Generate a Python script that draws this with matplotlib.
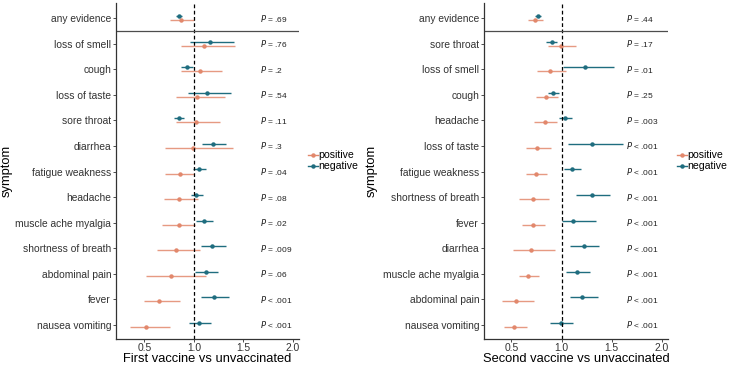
import numpy as np
import matplotlib
matplotlib.use("Agg")
import matplotlib.pyplot as plt
from matplotlib.lines import Line2D

plt.rcParams['font.family'] = ['Liberation Sans', 'DejaVu Sans']

# ---- first vaccine vs unvaccinated ----
symptoms1 = ["any evidence", "loss of smell", "cough", "loss of taste", "sore throat",
             "diarrhea", "fatigue weakness", "headache", "muscle ache myalgia",
             "shortness of breath", "abdominal pain", "fever", "nausea vomiting"]
pos1 = [0.87, 1.105, 1.058, 1.034, 1.017, 0.993, 0.86, 0.854, 0.847, 0.816, 0.765, 0.653, 0.517]
pos1_lo = [0.755, 0.874, 0.874, 0.82, 0.82, 0.704, 0.71, 0.694, 0.677, 0.63, 0.517, 0.497, 0.354]
pos1_hi = [1.0, 1.41, 1.28, 1.313, 1.265, 1.39, 1.0, 1.044, 1.007, 1.06, 1.126, 0.864, 0.762]
neg1 = [0.847, 1.16, 0.93, 1.136, 0.847, 1.194, 1.054, 1.02, 1.10, 1.187, 1.126, 1.204, 1.054]
neg1_lo = [0.82, 0.966, 0.874, 0.94, 0.796, 1.078, 0.99, 0.97, 1.017, 1.068, 1.01, 1.068, 0.952]
neg1_hi = [0.88, 1.40, 0.993, 1.374, 0.90, 1.327, 1.126, 1.09, 1.194, 1.327, 1.245, 1.35, 1.177]
pvals1 = [".69", ".76", ".2", ".54", ".11", ".3", ".04", ".08", ".02", ".009", ".06",
          "< .001", "< .001"]

# ---- second vaccine vs unvaccinated ----
symptoms2 = ["any evidence", "sore throat", "loss of smell", "cough", "headache",
             "loss of taste", "fatigue weakness", "shortness of breath", "fever",
             "diarrhea", "muscle ache myalgia", "abdominal pain", "nausea vomiting"]
pos2 = [0.733, 0.993, 0.883, 0.843, 0.83, 0.757, 0.74, 0.71, 0.71, 0.69, 0.663, 0.54, 0.527]
pos2_lo = [0.663, 0.863, 0.753, 0.74, 0.727, 0.643, 0.643, 0.573, 0.603, 0.513, 0.57, 0.403, 0.423]
pos2_hi = [0.813, 1.14, 1.04, 0.96, 0.95, 0.893, 0.85, 0.87, 0.833, 0.93, 0.773, 0.72, 0.653]
neg2 = [0.763, 0.90, 1.237, 0.917, 1.03, 1.307, 1.103, 1.303, 1.113, 1.22, 1.157, 1.207, 0.993]
neg2_lo = [0.73, 0.847, 1.01, 0.863, 0.977, 1.063, 1.02, 1.147, 1.0, 1.087, 1.047, 1.08, 0.883]
neg2_hi = [0.793, 0.957, 1.52, 0.97, 1.103, 1.61, 1.19, 1.483, 1.343, 1.373, 1.283, 1.36, 1.113]
pvals2 = [".44", ".17", ".01", ".25", ".003", "< .001", "< .001", "< .001", "< .001",
          "< .001", "< .001", "< .001", "< .001"]

xticks = [0.5, 1.0, 1.5, 2.0]
col_pos = "#E2886C"
col_neg = "#1F6D7F"
grey = "#4D4D4D"


def forest(ax, names, pe, plo, phi, ne, nlo, nhi, pv, xlabel, ptext_x, xlim, ylab_x):
    y = np.arange(len(names))
    d = 0.08
    ax.hlines(y + d, plo, phi, color=col_pos, lw=1.0, alpha=0.85)
    ax.plot(pe, y + d, "o", color=col_pos, ms=2.2)
    ax.hlines(y - d, nlo, nhi, color=col_neg, lw=1.0)
    ax.plot(ne, y - d, "o", color=col_neg, ms=2.2)
    ax.axvline(1.0, color="black", lw=0.9, ls=(0, (3, 2)))
    ax.axhline(0.5, color=grey, lw=0.9)
    for yi, p in zip(y, pv):
        if p.startswith("<"):
            s = "$P$ " + p
        else:
            s = "$P$ = " + p
        ax.text(ptext_x, yi, s, fontsize=6.0, va="center", ha="left", color="#222222")
    ax.set_yticks(y)
    ax.set_yticklabels(names)
    ax.set_ylim(12.55, -0.59)
    ax.set_xlim(*xlim)
    ax.set_xticks(xticks)
    ax.set_xticklabels([f"{t:.1f}" for t in xticks])
    ax.tick_params(axis="both", labelsize=7.4, colors=grey, length=2, width=0.7,
                   labelcolor="#333333", pad=1.5)
    ax.tick_params(axis="x", pad=0.8)
    for s in ["top", "right"]:
        ax.spines[s].set_visible(False)
    for s in ["left", "bottom"]:
        ax.spines[s].set_color("#333333")
        ax.spines[s].set_linewidth(0.9)
    ax.set_xlabel(xlabel, fontsize=9.3, labelpad=0)
    ax.set_ylabel("symptom", fontsize=9.3)
    ax.yaxis.set_label_coords(ylab_x, 0.5)
    ax.set_facecolor("white")


fig = plt.figure(figsize=(7.3, 3.65), dpi=100)
ax1 = fig.add_axes([116 / 730, 26 / 365, 183 / 730, 336 / 365])
ax2 = fig.add_axes([484 / 730, 26 / 365, 184 / 730, 336 / 365])

forest(ax1, symptoms1, pos1, pos1_lo, pos1_hi, neg1, neg1_lo, neg1_hi, pvals1,
       "First vaccine vs unvaccinated", 1.665, (0.215, 2.06), -0.563)
forest(ax2, symptoms2, pos2, pos2_lo, pos2_hi, neg2, neg2_lo, neg2_hi, pvals2,
       "Second vaccine vs unvaccinated", 1.645, (0.226, 2.06), -0.576)

handles = [Line2D([], [], color=col_pos, marker="o", ms=2.2, lw=1.0),
           Line2D([], [], color=col_neg, marker="o", ms=2.2, lw=1.0)]
for ax in (ax1, ax2):
    ax.legend(handles, ["positive", "negative"], loc="center left",
              bbox_to_anchor=(1.05, 0.53), frameon=False, fontsize=7.6,
              handlelength=0.9, handletextpad=0.1, labelspacing=0.1,
              borderaxespad=0, borderpad=0)

fig.savefig("out.png", dpi=100, facecolor="white")
